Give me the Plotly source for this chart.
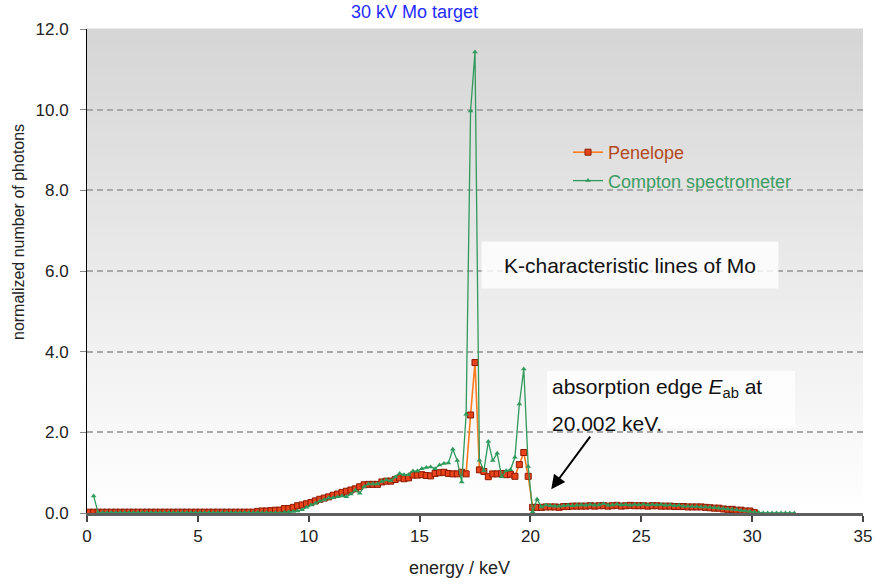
import numpy as np
import plotly.graph_objects as go

# ---------------- data ----------------
# energy bins of 0.2 keV; Penelope starts at 0.1 keV, Compton at 0.3 keV
bin_width = 0.2
penelope_start = 0.1
compton_start = 0.3

penelope_counts = [
    0.02, 0.02, 0.02, 0.02, 0.02,   # 0
    0.02, 0.02, 0.02, 0.02, 0.02,   # 1
    0.02, 0.02, 0.02, 0.02, 0.02,   # 2
    0.02, 0.02, 0.02, 0.02, 0.02,   # 3
    0.02, 0.02, 0.02, 0.02, 0.02,   # 4
    0.02, 0.02, 0.02, 0.02, 0.02,   # 5
    0.02, 0.02, 0.02, 0.02, 0.02,   # 6
    0.02, 0.02, 0.02, 0.04, 0.05,   # 7
    0.05, 0.06, 0.07, 0.07, 0.11,   # 8
    0.11, 0.14, 0.18, 0.20, 0.23,   # 9
    0.26, 0.30, 0.34, 0.37, 0.40,   # 10
    0.44, 0.47, 0.51, 0.54, 0.57,   # 11
    0.60, 0.65, 0.70, 0.71, 0.71,   # 12
    0.71, 0.77, 0.79, 0.79, 0.83,   # 13
    0.87, 0.85, 0.87, 0.94, 0.94,   # 14
    0.95, 0.93, 0.92, 0.98, 1.00,   # 15
    1.01, 0.98, 0.97, 0.97, 1.01,   # 16
    0.97, 2.43, 3.73, 1.07, 1.03,   # 17
    0.90, 0.97, 0.97, 0.98, 0.95,   # 18
    0.96, 0.91, 1.20, 1.50, 0.91,   # 19
    0.14, 0.14, 0.14, 0.15, 0.15,   # 20
    0.15, 0.14, 0.16, 0.16, 0.17,   # 21
    0.17, 0.17, 0.17, 0.18, 0.17,   # 22
    0.18, 0.18, 0.17, 0.18, 0.19,   # 23
    0.17, 0.18, 0.19, 0.18, 0.18,   # 24
    0.18, 0.17, 0.18, 0.18, 0.17,   # 25
    0.17, 0.17, 0.16, 0.16, 0.16,   # 26
    0.15, 0.15, 0.15, 0.15, 0.14,   # 27
    0.13, 0.12, 0.12, 0.10, 0.09,   # 28
    0.09, 0.07, 0.07, 0.05, 0.05,   # 29
    0.01,                           # 30
]

compton_counts = [
    0.42, 0.01, 0.01, 0.01,         # 0
    0.01, 0.01, 0.01, 0.01, 0.01,   # 1
    0.01, 0.01, 0.01, 0.01, 0.01,   # 2
    0.01, 0.01, 0.01, 0.01, 0.01,   # 3
    0.01, 0.01, 0.01, 0.01, 0.01,   # 4
    0.01, 0.01, 0.01, 0.01, 0.01,   # 5
    0.01, 0.01, 0.01, 0.01, 0.01,   # 6
    0.01, 0.01, 0.01, 0.02, 0.01,   # 7
    0.01, 0.00, 0.01, 0.00, 0.02,   # 8
    0.03, 0.04, 0.05, 0.08, 0.14,   # 9
    0.20, 0.24, 0.30, 0.33, 0.37,   # 10
    0.38, 0.40, 0.42, 0.40, 0.47,   # 11
    0.57, 0.49, 0.66, 0.72, 0.72,   # 12
    0.72, 0.78, 0.82, 0.80, 0.89,   # 13
    0.98, 0.95, 0.95, 1.04, 1.04,   # 14
    1.10, 1.13, 1.14, 1.10, 1.19,   # 15
    1.23, 1.24, 1.58, 1.30, 0.77,   # 16
    2.45, 9.97, 11.43, 1.31, 1.05,  # 17
    1.77, 1.30, 1.48, 0.90, 1.05,   # 18
    1.07, 1.38, 2.70, 3.57, 1.15,   # 19
    0.03, 0.34, 0.15, 0.20, 0.18,   # 20
    0.17, 0.17, 0.18, 0.19, 0.18,   # 21
    0.19, 0.20, 0.19, 0.21, 0.19,   # 22
    0.20, 0.23, 0.19, 0.20, 0.22,   # 23
    0.20, 0.21, 0.19, 0.21, 0.20,   # 24
    0.22, 0.20, 0.21, 0.20, 0.21,   # 25
    0.19, 0.20, 0.18, 0.19, 0.17,   # 26
    0.17, 0.16, 0.16, 0.15, 0.15,   # 27
    0.14, 0.13, 0.12, 0.11, 0.10,   # 28
    0.09, 0.08, 0.06, 0.05, 0.04,   # 29
    0.02, 0.01, 0.00, 0.00, 0.00,   # 30
    0.00, 0.00, 0.00, 0.00, 0.00,   # 31
]

penelope_energy = np.round(penelope_start + bin_width * np.arange(len(penelope_counts)), 2)
compton_energy = np.round(compton_start + bin_width * np.arange(len(compton_counts)), 2)

x_ticks = [0, 5, 10, 15, 20, 25, 30, 35]
y_ticks = [0, 2, 4, 6, 8, 10, 12]

title_text = "30 kV Mo target"
x_title = "energy / keV"
y_title = "normalized number of photons"
k_lines_text = "K-characteristic lines of Mo"
edge_line1 = "absorption edge <i>E</i><sub>ab</sub> at"
edge_line2 = "20.002 keV."
edge_arrow_tip = (20.94, 0.59)

# ---------------- layout geometry ----------------
W, H = 875, 586
L, R, T, B = 87, 863, 29, 513
FONT = "Liberation Sans, Arial, sans-serif"


def px(xp):
    return (xp - L) / (R - L)


def py(yp):
    return (B - yp) / (B - T)


fig = go.Figure()

fig.add_trace(go.Scatter(
    x=penelope_energy, y=penelope_counts, mode="lines+markers",
    name="<span style='color:#b4491c'>Penelope</span>",
    legendgroup="a",
    line=dict(color="#ff7b1c", width=1.6),
    marker=dict(symbol="square", size=6, color="#e8431a",
                line=dict(color="#8c1a00", width=1)),
))
fig.add_trace(go.Scatter(
    x=compton_energy, y=compton_counts, mode="lines+markers",
    name="<span style='color:#3a9d62'>Compton spectrometer</span>",
    legendgroup="b",
    line=dict(color="#2f9a5c", width=1.3),
    marker=dict(symbol="triangle-up", size=5, color="#2f9a5c"),
))

# background vertical gradient (grey at top -> white at bottom)
shapes = []
n_bands = 60
top_rgb = np.array([214, 214, 214])
for i in range(n_bands):
    t = i / (n_bands - 1)
    c = top_rgb + (255 - top_rgb) * t
    y1 = 1 - i / n_bands
    y0 = 1 - (i + 1) / n_bands
    shapes.append(dict(type="rect", xref="paper", yref="paper",
                       x0=0, x1=1, y0=y0 - 0.001, y1=y1 + 0.001,
                       fillcolor="rgb(%d,%d,%d)" % tuple(c.astype(int)),
                       line=dict(width=0), layer="below"))

# white box behind absorption-edge text
shapes.append(dict(type="rect", xref="paper", yref="paper",
                   x0=px(547), x1=px(795), y0=py(428), y1=py(371),
                   fillcolor="rgba(255,255,255,0.8)", line=dict(width=0),
                   layer="above"))

annotations = [
    dict(text=title_text, xref="paper", yref="paper", x=px(414), y=py(12),
         showarrow=False, font=dict(family=FONT, size=18, color="#1f2bff"),
         xanchor="center", yanchor="middle"),
    dict(text=y_title, xref="paper", yref="paper", x=px(18), y=py(232),
         showarrow=False, textangle=-90,
         font=dict(family=FONT, size=16, color="#222222"),
         xanchor="center", yanchor="middle"),
    dict(text=x_title, xref="paper", yref="paper", x=px(459), y=py(568),
         showarrow=False, font=dict(family=FONT, size=18, color="#222222"),
         xanchor="center", yanchor="middle"),
    dict(text=k_lines_text, xref="paper", yref="paper", x=px(630), y=py(264.5),
         showarrow=False, font=dict(family=FONT, size=21, color="#111111"),
         bgcolor="rgba(255,255,255,0.8)", width=296, height=46, borderpad=0,
         xanchor="center", yanchor="middle"),
    dict(text=edge_line1, xref="paper", yref="paper", x=px(550), y=py(388),
         showarrow=False, font=dict(family=FONT, size=21, color="#111111"),
         xanchor="left", yanchor="middle"),
    dict(text=edge_line2, xref="paper", yref="paper", x=px(550), y=py(423),
         showarrow=False, font=dict(family=FONT, size=21, color="#111111"),
         xanchor="left", yanchor="middle"),
    dict(text="", xref="x", yref="y", x=edge_arrow_tip[0], y=edge_arrow_tip[1],
         ax=40, ay=-54, showarrow=True, arrowhead=2, arrowsize=1.4,
         arrowwidth=2, arrowcolor="#000000", standoff=0),
]

fig.update_layout(
    width=W, height=H,
    margin=dict(l=L, r=W - R, t=T, b=H - B, pad=0, autoexpand=False),
    paper_bgcolor="white", plot_bgcolor="rgba(0,0,0,0)",
    font=dict(family=FONT, size=17, color="#222222"),
    showlegend=True,
    legend=dict(x=px(568), y=py(134), xanchor="left", yanchor="top",
                bgcolor="rgba(0,0,0,0)", font=dict(family=FONT, size=18),
                traceorder="grouped", tracegroupgap=2, itemwidth=30),
    shapes=shapes, annotations=annotations,
    xaxis=dict(range=[0, 35], tickvals=x_ticks, ticktext=[str(v) for v in x_ticks],
               automargin=False,
               showgrid=False, zeroline=False, showline=True,
               linecolor="#5f5f5f", linewidth=3, ticks="outside", ticklen=6,
               tickwidth=1.5, tickcolor="#444444",
               tickfont=dict(family=FONT, size=17, color="#222222")),
    yaxis=dict(range=[0, 12], tickvals=y_ticks, ticktext=["%.1f" % v for v in y_ticks],
               automargin=False,
               showgrid=True, gridcolor="#a8a8a8", gridwidth=1.5, griddash="6px,4px",
               zeroline=False, showline=True, linecolor="#000000", linewidth=1,
               ticks="outside", ticklen=6, tickcolor="#888888",
               ticklabelstandoff=8,
               tickfont=dict(family=FONT, size=17, color="#222222")),
)

fig.write_html("out.html")
